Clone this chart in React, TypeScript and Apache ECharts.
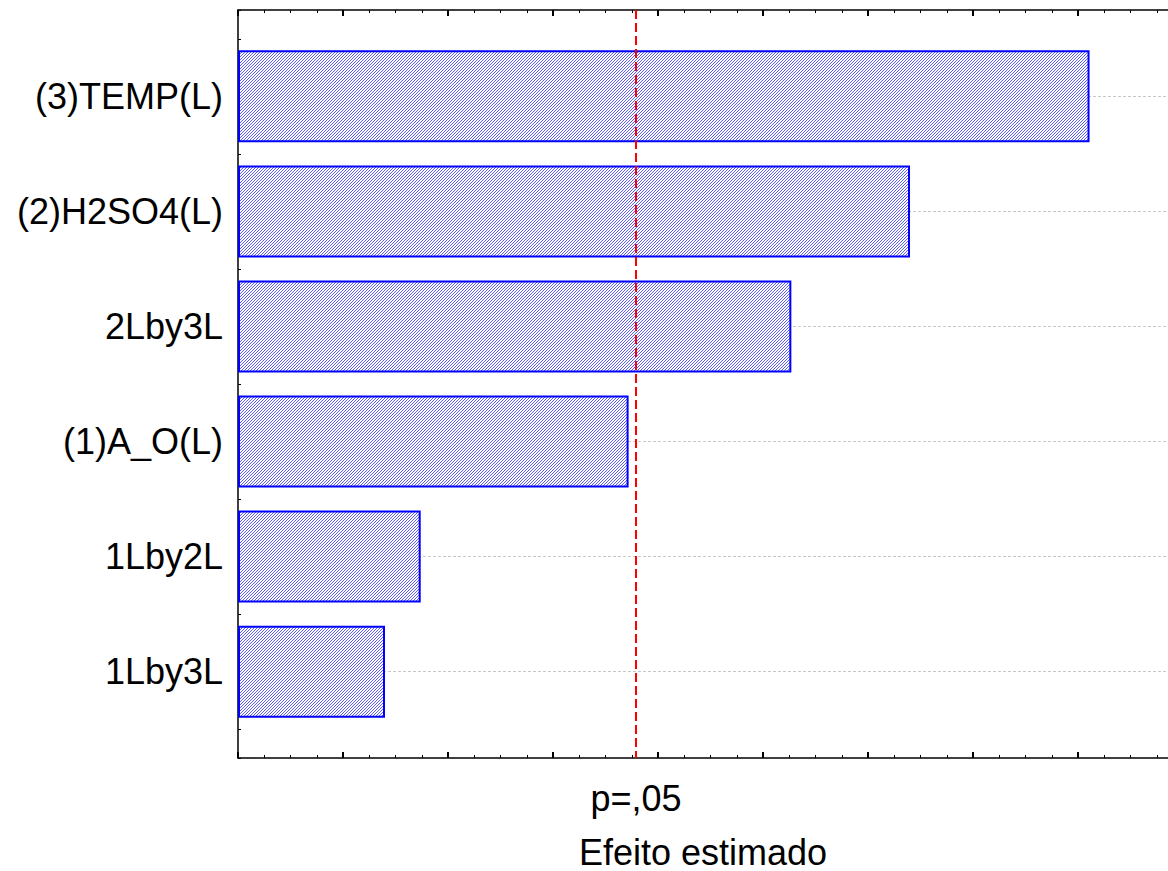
import React, { useEffect, useRef } from 'react';
import * as echarts from 'echarts';

// ---- data ----
const categories = ['(3)TEMP(L)', '(2)H2SO4(L)', '2Lby3L', '(1)A_O(L)', '1Lby2L', '1Lby3L'];
const effects = [8.11, 6.4, 5.27, 3.72, 1.74, 1.4];
const pValue = 3.79;
const pLabel = 'p=,05';
const xTitle = 'Efeito estimado';
const xMin = 0;
const xMax = 9;
const xInterval = 1;

// each category occupies 4 sub-slots; 3 slots of padding above the first and below the last
const SLOTS_PER_CAT = 4;
const PAD = 3;
const slotCount = PAD * 2 + (categories.length - 1) * SLOTS_PER_CAT + 1;
const slotLabels: string[] = [];
const slotValues: (number | null)[] = [];
for (let i = 0; i < slotCount; i++) {
  const k = i - PAD;
  if (k >= 0 && k % SLOTS_PER_CAT === 0 && k / SLOTS_PER_CAT < categories.length) {
    slotLabels.push(categories[k / SLOTS_PER_CAT]);
    slotValues.push(effects[k / SLOTS_PER_CAT]);
  } else {
    slotLabels.push('');
    slotValues.push(null);
  }
}
const isMajor = (i: number) => i >= PAD && (i - PAD) % SLOTS_PER_CAT === 0 && i <= slotCount - 1 - PAD;

const FONT = '"Liberation Sans", Arial, Helvetica, sans-serif';

export default function App() {
  const ref = useRef<HTMLDivElement>(null);
  useEffect(() => {
    if (!ref.current) return;
    const chart = echarts.init(ref.current, undefined, { renderer: 'svg' });

    const c = document.createElement('canvas');
    c.width = 3;
    c.height = 3;
    const ctx = c.getContext('2d')!;
    ctx.fillStyle = '#ffffff';
    ctx.fillRect(0, 0, 3, 3);
    ctx.fillStyle = '#5a5aff';
    for (let i = 0; i < 3; i++) ctx.fillRect(i, 2 - i, 1, 1);
    const hatch: any = { image: c, repeat: 'repeat' };

    const axisLine = { show: true, onZero: false, lineStyle: { color: '#000', width: 1.5 } };
    const xAxisBase = {
      type: 'value',
      min: xMin,
      max: xMax,
      interval: xInterval,
      axisLine,
      axisTick: { show: true, inside: true, length: 6, lineStyle: { color: '#000', width: 2 } },
      minorTick: { show: true, splitNumber: 4, length: 3, lineStyle: { color: '#000', width: 1 } },
      axisLabel: { show: false },
      splitLine: { show: false },
      minorSplitLine: { show: false },
    };

    chart.setOption({
      animation: false,
      backgroundColor: '#ffffff',
      grid: {
        left: 238,
        width: 945,
        top: 10,
        bottom: 113,
        containLabel: false,
        outerBoundsMode: 'none',
      },
      xAxis: [
        { ...xAxisBase, position: 'bottom' },
        { ...xAxisBase, position: 'top' },
      ],
      yAxis: [
        {
          type: 'category',
          inverse: true,
          boundaryGap: false,
          data: slotLabels,
          position: 'left',
          axisLine,
          axisTick: { show: true, inside: true, length: 3, interval: 0, lineStyle: { color: '#000', width: 1 } },
          axisLabel: { show: true, interval: 0, fontSize: 36, color: '#000', fontFamily: FONT, margin: 15 },
          splitLine: { show: false },
        },
        {
          type: 'category',
          inverse: true,
          boundaryGap: false,
          data: slotLabels,
          position: 'left',
          offset: 0,
          axisLine: { show: false },
          axisTick: {
            show: true,
            inside: true,
            length: 7,
            interval: (i: number) => isMajor(i),
            lineStyle: { color: '#000', width: 2 },
          },
          axisLabel: { show: false },
          splitLine: {
            show: true,
            interval: (i: number) => isMajor(i),
            lineStyle: { color: '#c8c8c8', type: [3, 2], width: 1 },
          },
        },
      ],
      series: [
        {
          type: 'bar',
          xAxisIndex: 0,
          yAxisIndex: 0,
          data: slotValues,
          barWidth: 92,
          clip: false,
          itemStyle: { color: hatch, borderColor: '#0000ff', borderWidth: 2 },
          markLine: {
            silent: true,
            symbol: ['none', 'none'],
            data: [{ xAxis: pValue }],
            lineStyle: { color: '#ff0000', type: [9, 4], width: 2 },
            label: {
              show: true,
              position: 'end',
              formatter: pLabel,
              fontSize: 36,
              color: '#000',
              fontFamily: FONT,
              distance: 22,
            },
          },
        },
      ],
      graphic: [
        {
          type: 'text',
          x: 703,
          y: 852,
          style: {
            text: xTitle,
            fontSize: 36,
            fontFamily: FONT,
            fill: '#000',
            align: 'center',
            verticalAlign: 'middle',
          },
        },
      ],
    });
    return () => chart.dispose();
  }, []);
  return (
    <div
      ref={ref}
      style={{ position: 'absolute', left: 0, top: 0, width: 1168, height: 871, background: '#fff' }}
    />
  );
}
